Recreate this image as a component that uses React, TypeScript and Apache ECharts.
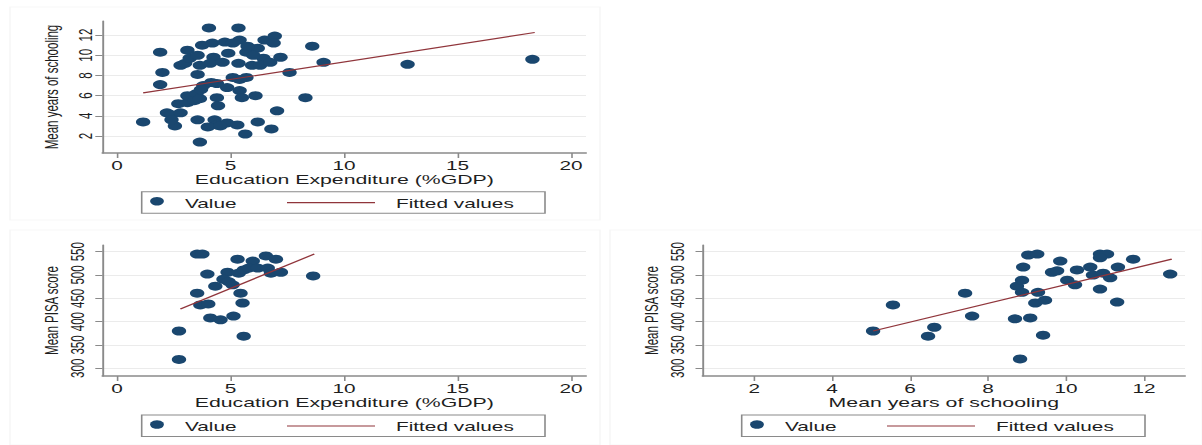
import React, { useEffect, useRef } from "react";
import * as echarts from "echarts";

// ---------- data ----------
const eduTicks = [0, 5, 10, 15, 20];
const schoolingTicks = [2, 4, 6, 8, 10, 12];
const pisaTicks = [300, 350, 400, 450, 500, 550];

const legendLabels = ["Value", "Fitted values"];
const eduTitle = "Education Expenditure (%GDP)";
const schoolingTitle = "Mean years of schooling";
const pisaTitle = "Mean PISA score";

// Panel 1: expenditure vs years of schooling
const expSchoolX = [
  1.15, 1.9, 2.0, 1.9, 2.7, 3.1, 2.2, 2.4, 2.8, 2.55, 2.4, 3.1, 2.8, 3.0,
  4.05, 5.35, 3.75, 4.2, 4.75, 5.4, 3.2, 3.55, 4.25, 4.9, 5.7, 6.2, 6.45,
  3.65, 4.1, 4.65, 5.35, 5.95, 6.3, 3.55, 5.1, 5.7, 3.8, 4.4, 4.85, 5.4,
  6.1, 3.1, 3.5, 4.4, 4.45, 5.5, 3.55, 4.3, 4.4, 4.85, 5.3, 6.2, 4.0, 5.65,
  3.65, 3.4, 3.7, 3.65, 6.5, 6.95, 6.9, 6.75, 7.2, 7.6, 7.05, 6.8, 6.0,
  5.75, 5.4, 4.15, 4.55, 5.1, 8.6, 9.1, 8.3, 12.8, 18.3,
];
const expSchoolY = [
  3.4, 10.3, 8.3, 7.1, 5.2, 5.3, 4.3, 4.1, 4.3, 3.0, 3.6, 10.5, 9.0, 9.2,
  12.7, 12.7, 11.0, 11.2, 11.3, 11.5, 9.7, 10.0, 9.8, 10.2, 10.3, 10.7, 9.7,
  9.0, 9.2, 9.3, 9.2, 9.0, 9.0, 8.1, 7.8, 7.8, 7.0, 7.2, 6.8, 6.5,
  6.0, 6.0, 6.2, 5.8, 5.0, 5.8, 3.6, 3.6, 3.1, 3.3, 3.1, 3.4, 2.9, 2.2,
  1.4, 5.5, 6.6, 5.7, 11.5, 11.9, 11.2, 9.3, 9.8, 8.3, 4.5, 2.7, 10.0,
  10.9, 7.6, 7.3, 3.0, 11.2, 10.9, 9.3, 5.8, 9.1, 9.6,
];
const expSchoolFitX = [1.15, 18.4];
const expSchoolFitY = [6.27, 12.25];

// Panel 2: expenditure vs PISA
const expPisaX = [
  3.53, 3.76, 5.31, 5.98, 6.56, 7.0, 3.98, 4.87, 5.36, 5.58, 5.8, 6.2, 6.64,
  6.78, 7.22, 4.69, 4.91, 5.09, 4.33, 3.53, 5.44, 3.67, 4.02, 5.53, 4.11,
  4.56, 5.13, 2.73, 5.58, 2.73, 8.64,
];
const expPisaY = [
  545, 545, 534, 530, 541, 534, 502, 506, 504, 511, 515, 515, 515,
  504, 506, 491, 486, 479, 476, 461, 461, 436, 438, 440, 408,
  404, 412, 380, 369, 319, 498,
];
const expPisaFitX = [2.79, 8.69];
const expPisaFitY = [427, 545];

// Panel 3: years of schooling vs PISA
const schoolPisaX = [
  5.05, 5.56, 6.46, 6.62, 7.41, 7.59, 8.69, 9.08, 9.41, 8.82, 9.21, 9.46,
  9.28, 8.74, 8.87, 8.87, 8.9, 9.03, 9.26, 9.85, 9.64, 9.77, 10.03, 10.23,
  10.28, 10.62, 10.69, 10.95, 10.87, 10.87, 11.05, 10.87, 11.13, 11.33,
  11.31, 11.72, 12.67,
];
const schoolPisaY = [
  380, 436, 369, 388, 461, 412, 406, 408, 371, 320, 440, 446,
  463, 476, 463, 489, 517, 543, 545, 530, 506, 509, 489, 479,
  511, 517, 500, 504, 470, 545, 545, 537, 494, 517,
  442, 534, 502,
];
const schoolPisaFitX = [5.05, 12.71];
const schoolPisaFitY = [380, 534];

// ---------- layout / style ----------
const SX = 1.6; // horizontal stretch of the reference
const W = 1202 / SX;
const H = 445;
const px = (v: number) => v / SX;
const NAVY = "#1a476f";
const MAROON = "#90353b";
const AXIS = "#8a8a8a";
const TEXT = "#1e1e1e";
const FONT = "Liberation Sans, Arial, sans-serif";

const zip = (xs: number[], ys: number[]) => xs.map((x, i) => [x, ys[i]]);

function xAxis(gridIndex: number, min: number, max: number, ticks: number[], name: string) {
  return {
    type: "value",
    gridIndex,
    min,
    max,
    name,
    nameLocation: "middle",
    nameGap: 20,
    nameTextStyle: { fontSize: 13.3, color: TEXT, fontFamily: FONT },
    axisLine: { show: true, onZero: false, lineStyle: { color: AXIS, width: 1.5 } },
    axisTick: { show: true, length: 5, customValues: ticks, lineStyle: { color: AXIS, width: 1 } },
    axisLabel: { customValues: ticks, fontSize: 13, color: TEXT, fontFamily: FONT, margin: 6 },
    splitLine: { show: false },
  };
}

function yAxis(gridIndex: number, min: number, max: number, ticks: number[], name: string, margin: number) {
  return {
    type: "value",
    gridIndex,
    min,
    max,
    name,
    nameLocation: "middle",
    nameRotate: 90,
    nameGap: 26,
    nameTextStyle: { fontSize: 11.5, color: TEXT, fontFamily: FONT },
    axisLine: { show: true, onZero: false, lineStyle: { color: AXIS, width: 1.2 } },
    axisTick: { show: true, length: 4.5, customValues: ticks, lineStyle: { color: AXIS, width: 1 } },
    axisLabel: { customValues: ticks, rotate: 90, fontSize: 11.5, color: TEXT, fontFamily: FONT, margin },
    splitLine: { show: true, lineStyle: { color: "#ebebeb", width: 1 } },
  };
}

function legend(dx: number, top: number) {
  return [
    {
      type: "rect",
      shape: { x: px(141.7) + dx, y: top, width: px(545 - 141.7), height: 21.6 },
      style: { fill: "#fff", stroke: AXIS, lineWidth: 1 },
    },
    {
      type: "circle",
      shape: { cx: px(157) + dx, cy: top + 9.5, r: 4.3 },
      style: { fill: NAVY },
    },
    {
      type: "text",
      x: px(185) + dx,
      y: top + 12,
      style: { text: legendLabels[0], fontSize: 13, fontFamily: FONT, fill: TEXT, verticalAlign: "middle", align: "left" },
    },
    {
      type: "line",
      shape: { x1: px(287) + dx, y1: top + 11, x2: px(375) + dx, y2: top + 11 },
      style: { stroke: MAROON, lineWidth: 1.2 },
    },
    {
      type: "text",
      x: px(396) + dx,
      y: top + 12,
      style: { text: legendLabels[1], fontSize: 13, fontFamily: FONT, fill: TEXT, verticalAlign: "middle", align: "left" },
    },
  ];
}

function frame(x0: number, y0: number, x1: number, y1: number) {
  return {
    type: "rect",
    shape: { x: px(x0), y: y0, width: px(x1 - x0), height: y1 - y0 },
    style: { fill: "none", stroke: "#f7f7f7", lineWidth: 1 },
    z: -10,
  };
}

export default function App() {
  const ref = useRef<HTMLDivElement>(null);
  useEffect(() => {
    if (!ref.current) return;
    const chart = echarts.init(ref.current, null, { renderer: "svg", width: W, height: H });
    const option: any = {
      animation: false,
      backgroundColor: "#fff",
      textStyle: { fontFamily: FONT },
      grid: [
        { left: px(102.5), top: 21, width: px(586 - 102.5), height: 132, outerBoundsMode: "none" },
        { left: px(102.5), top: 245, width: px(586 - 102.5), height: 131, outerBoundsMode: "none" },
        { left: px(702.7), top: 245, width: px(1185 - 702.7), height: 131, outerBoundsMode: "none" },
      ],
      xAxis: [
        xAxis(0, -0.64, 20.66, eduTicks, eduTitle),
        xAxis(1, -0.64, 20.66, eduTicks, eduTitle),
        xAxis(2, 0.68, 13.05, schoolingTicks, schoolingTitle),
      ],
      yAxis: [
        yAxis(0, 0.32, 13.39, schoolingTicks, schoolingTitle, 5),
        yAxis(1, 283.5, 564.4, pisaTicks, pisaTitle, 10),
        yAxis(2, 283.5, 564.4, pisaTicks, pisaTitle, 10),
      ],
      series: [
        { type: "scatter", name: legendLabels[0], xAxisIndex: 0, yAxisIndex: 0, data: zip(expSchoolX, expSchoolY), symbol: "circle", symbolSize: 9, itemStyle: { color: NAVY, opacity: 1 } },
        { type: "line", name: legendLabels[1], xAxisIndex: 0, yAxisIndex: 0, data: zip(expSchoolFitX, expSchoolFitY), symbol: "none", lineStyle: { color: MAROON, width: 1.2 } },
        { type: "scatter", name: legendLabels[0], xAxisIndex: 1, yAxisIndex: 1, data: zip(expPisaX, expPisaY), symbol: "circle", symbolSize: 9, itemStyle: { color: NAVY, opacity: 1 } },
        { type: "line", name: legendLabels[1], xAxisIndex: 1, yAxisIndex: 1, data: zip(expPisaFitX, expPisaFitY), symbol: "none", lineStyle: { color: MAROON, width: 1.2 } },
        { type: "scatter", name: legendLabels[0], xAxisIndex: 2, yAxisIndex: 2, data: zip(schoolPisaX, schoolPisaY), symbol: "circle", symbolSize: 9, itemStyle: { color: NAVY, opacity: 1 } },
        { type: "line", name: legendLabels[1], xAxisIndex: 2, yAxisIndex: 2, data: zip(schoolPisaFitX, schoolPisaFitY), symbol: "none", lineStyle: { color: MAROON, width: 1.2 } },
      ],
      graphic: [
        frame(10, 7, 600, 220),
        frame(10, 230, 600, 445),
        frame(610, 230, 1202, 445),
        ...legend(0, 191.7),
        ...legend(0, 415),
        ...legend(px(600), 415),
      ],
    };
    chart.setOption(option);
    return () => chart.dispose();
  }, []);

  return (
    <div
      ref={ref}
      style={{
        position: "absolute",
        left: 0,
        top: 0,
        width: W,
        height: H,
        transform: `scaleX(${SX})`,
        transformOrigin: "0 0",
        background: "#fff",
      }}
    />
  );
}
